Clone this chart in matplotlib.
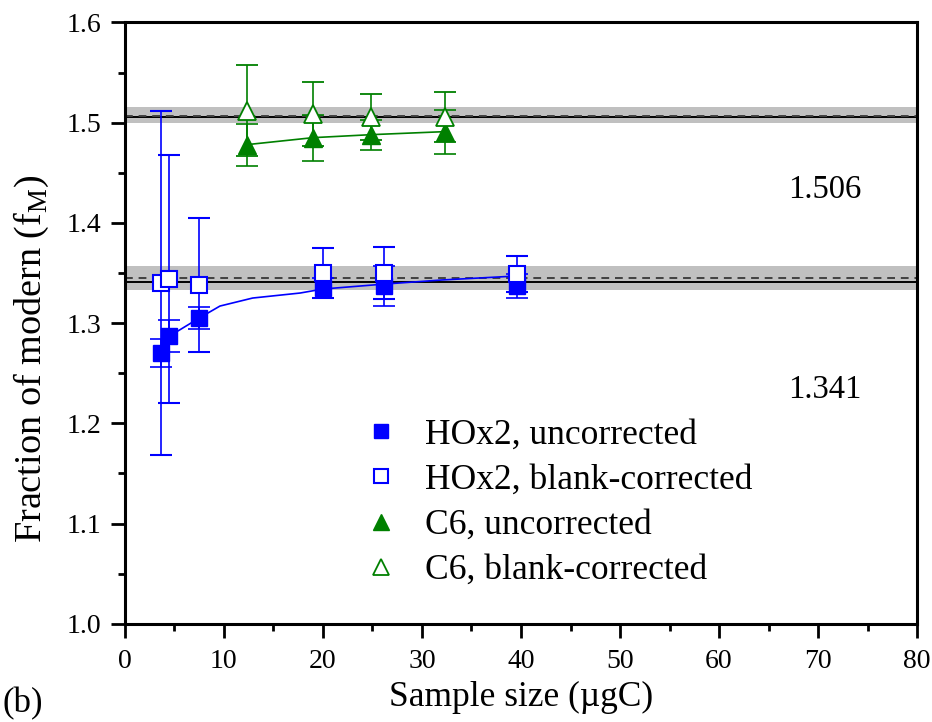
import matplotlib
matplotlib.use("Agg")
import matplotlib.pyplot as plt

plt.rcParams['font.family'] = ['Liberation Serif', 'DejaVu Serif']
plt.rcParams['mathtext.fontset'] = 'custom'
plt.rcParams['mathtext.rm'] = 'Liberation Serif'

# HOx2 data (sample size in ugC, fraction modern)
hox_x = [3.6, 4.5, 7.5, 20.0, 26.2, 39.6]
hox_unc = [1.270, 1.287, 1.305, 1.335, 1.337, 1.337]
hox_unc_err = [0.014, 0.016, 0.011, 0.010, 0.020, 0.012]
hox_cor = [1.340, 1.344, 1.338, 1.350, 1.350, 1.349]
hox_cor_err = [0.172, 0.124, 0.067, 0.025, 0.026, 0.018]

# C6 data
c6_x = [12.3, 19.0, 24.9, 32.3]
c6_unc = [1.478, 1.485, 1.488, 1.491]
c6_unc_err = [0.021, 0.023, 0.015, 0.022]
c6_cor = [1.512, 1.509, 1.506, 1.506]
c6_cor_err = [0.045, 0.032, 0.023, 0.025]

# fitted curves
hox_fit_x = [3.6, 4.5, 7.5, 9.6, 12.9, 17.7, 20.0, 26.3, 32.0, 39.6]
hox_fit_y = [1.270, 1.287, 1.305, 1.317, 1.325, 1.330, 1.334, 1.339, 1.343, 1.347]
c6_fit_x = [12.3, 19.0, 24.9, 32.3]
c6_fit_y = [1.478, 1.485, 1.488, 1.491]

# consensus values, measured means and bands
cons = [1.341, 1.506]
means = [1.345, 1.507]
band_lo = [1.333, 1.4995]
band_hi = [1.357, 1.5155]
cons_labels = ["1.341", "1.506"]
label_y = [1.234, 1.433]

BLUE = '#0000ff'
GREEN = '#008000'

fig = plt.figure(figsize=(9.32, 7.22), dpi=100)
ax = fig.add_axes([0.134, 0.136, 0.850, 0.833])

for lo, hi, c, m in zip(band_lo, band_hi, cons, means):
    ax.axhspan(lo, hi, color='#c0c0c0', lw=0, zorder=1)
    ax.axhline(c, color='black', lw=1.4, zorder=2)
    ax.axhline(m, color='#404040', lw=1.4, ls=(0, (4, 3)), zorder=2)

ax.plot(hox_fit_x, hox_fit_y, color=BLUE, lw=1.2, zorder=3)
ax.plot(c6_fit_x, c6_fit_y, color=GREEN, lw=1.2, zorder=3)

ekw = dict(capsize=8, elinewidth=1.2, capthick=1.2, ls='none', zorder=4)
ax.errorbar(hox_x, hox_unc, yerr=hox_unc_err, fmt='s', ms=11, color=BLUE,
            mec=BLUE, mfc=BLUE, label='HOx2, uncorrected', **ekw)
ax.errorbar(hox_x, hox_cor, yerr=hox_cor_err, fmt='s', ms=11, color=BLUE,
            mec=BLUE, mfc='white', mew=1.5, label='HOx2, blank-corrected', **ekw)
ax.errorbar(c6_x, c6_unc, yerr=c6_unc_err, fmt='^', ms=13, color=GREEN,
            mec=GREEN, mfc=GREEN, label='C6, uncorrected', **ekw)
ax.errorbar(c6_x, c6_cor, yerr=c6_cor_err, fmt='^', ms=13, color=GREEN,
            mec=GREEN, mfc='white', mew=1.3, label='C6, blank-corrected', **ekw)

for t, y in zip(cons_labels, label_y):
    ax.text(70.7, y, t, fontsize=23.5, ha='center', va='center')

ax.set_xlim(0, 80)
ax.set_ylim(1.0, 1.6)
ax.set_xticks(range(0, 81, 10))
ax.set_xticks(range(5, 80, 10), minor=True)
ax.set_yticks([1.0, 1.1, 1.2, 1.3, 1.4, 1.5, 1.6])
ax.set_yticks([1.05, 1.15, 1.25, 1.35, 1.45, 1.55], minor=True)
ax.set_yticklabels(['1.0', '1.1', '1.2', '1.3', '1.4', '1.5', '1.6'])
ax.tick_params(which='major', direction='out', length=10, width=2, labelsize=20)
ax.tick_params(which='minor', direction='out', length=5, width=2)
ax.tick_params(axis='x', which='major', pad=8)
ax.tick_params(axis='y', which='major', pad=7)
for s in ax.spines.values():
    s.set_linewidth(2.2)

ax.set_xlabel('Sample size (\u00b5gC)', fontsize=25.5, labelpad=5)
ax.set_ylabel('Fraction of modern (f$_\\mathregular{M}$)', fontsize=27.5)
ax.yaxis.set_label_coords(-0.093, 0.44)

handles, labels = ax.get_legend_handles_labels()
handles = [h[0] for h in handles]
ax.legend(handles, labels, loc='upper left', bbox_to_anchor=(0.262, 0.394),
          frameon=False, fontsize=25.6, handlelength=0.95, handletextpad=0.75,
          labelspacing=0.34, markerscale=0.9)

fig.text(0.003, 0.003, '(b)', fontsize=25, ha='left', va='bottom')

plt.savefig("out.png", dpi=100)
